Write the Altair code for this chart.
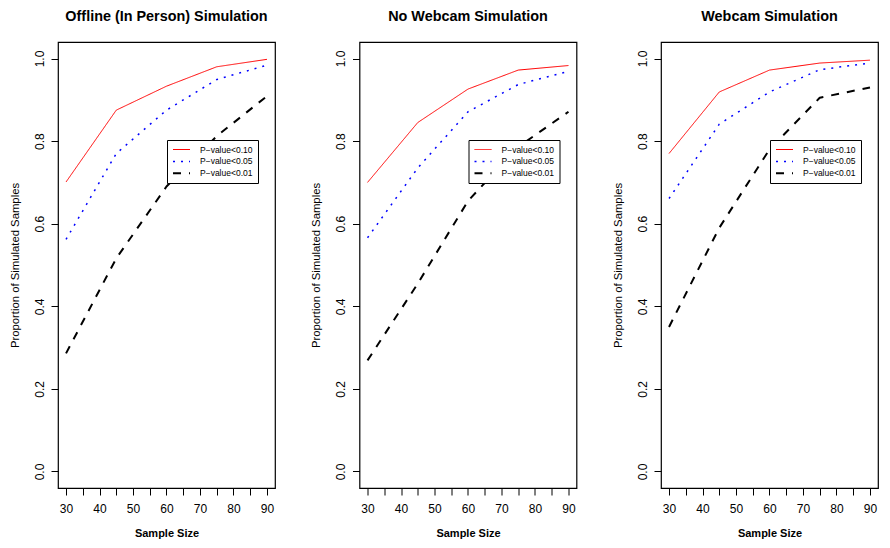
import altair as alt
import pandas as pd

# ---------------- data ----------------
sample_sizes = [30, 45, 60, 75, 90]
panel_titles = ["Offline (In Person) Simulation", "No Webcam Simulation", "Webcam Simulation"]
series_labels = ["P\u2212value<0.10", "P\u2212value<0.05", "P\u2212value<0.01"]

offline_p10 = [0.701, 0.875, 0.933, 0.980, 0.998]
offline_p05 = [0.562, 0.770, 0.875, 0.949, 0.984]
offline_p01 = [0.286, 0.516, 0.690, 0.812, 0.909]

nowebcam_p10 = [0.700, 0.845, 0.926, 0.972, 0.983]
nowebcam_p05 = [0.566, 0.735, 0.871, 0.937, 0.969]
nowebcam_p01 = [0.269, 0.455, 0.655, 0.786, 0.871]

webcam_p10 = [0.770, 0.919, 0.972, 0.989, 0.996]
webcam_p05 = [0.661, 0.841, 0.919, 0.973, 0.989]
webcam_p01 = [0.350, 0.590, 0.780, 0.905, 0.930]

x_ticks = [30, 35, 40, 45, 50, 55, 60, 65, 70, 75, 80, 85, 90]
y_ticks = [0.0, 0.2, 0.4, 0.6, 0.8, 1.0]

# ---------------- style ----------------
FONT = "Liberation Sans"
line_colors = ["#ff0000", "#0000ff", "#000000"]
line_dashes = [[1, 0], [2, 6], [8, 8]]
line_widths = [1.0, 2.0, 2.2]
PW, PH = 217, 446


def make_panel(title, values):
    rows = []
    for label, vals in zip(series_labels, values):
        for n, v in zip(sample_sizes, vals):
            rows.append({"n": n, "p": v, "series": label})
    df = pd.DataFrame(rows)

    legend = alt.Legend(
        orient="none", legendX=109, legendY=98, title=None,
        fillColor="white", strokeColor="black", padding=5,
        symbolType="stroke", symbolSize=289, symbolOffset=0,
        clipHeight=9, rowPadding=2.9,
        labelFont=FONT, labelFontSize=8.5, labelColor="black", labelOffset=9,
    )
    xaxis = alt.Axis(
        values=x_ticks, format="d",
        labelExpr="datum.value % 10 == 0 ? datum.label : ''",
        tickSize=7, tickColor="black", tickWidth=1,
        labelPadding=17.5, labelBaseline="alphabetic", labelFlush=False, labelOverlap=False,
        labelFont=FONT, labelFontSize=12, labelColor="black",
        domain=False, grid=False,
        title="Sample Size", titleX=PW / 2, titleY=48, titleAlign="center",
        titleBaseline="alphabetic", titleFontWeight="bold", titleFontSize=11,
        titleFont=FONT, titleColor="black",
    )
    yaxis = alt.Axis(
        values=y_ticks, format=".1f",
        labelAngle=270, labelAlign="center", labelBaseline="alphabetic",
        tickSize=7, tickColor="black", tickWidth=1,
        labelPadding=8, labelOverlap=False, labelFlush=False,
        labelFont=FONT, labelFontSize=12, labelColor="black",
        domain=False, grid=False,
        title="Proportion of Simulated Samples", titleX=-40, titleY=PH / 2,
        titleAngle=270, titleAlign="center", titleBaseline="alphabetic",
        titleFontWeight="normal", titleFontSize=11.3,
        titleFont=FONT, titleColor="black",
    )
    return alt.Chart(
        df,
        title=alt.TitleParams(text=title, anchor="middle", frame="group",
                              baseline="alphabetic", offset=6.5,
                              fontSize=14.4, fontWeight="bold", font=FONT, color="black"),
    ).mark_line(strokeCap="butt", strokeJoin="round").encode(
        x=alt.X("n:Q", scale=alt.Scale(domain=[27.6, 92.4], nice=False, zero=False), axis=xaxis),
        y=alt.Y("p:Q", scale=alt.Scale(domain=[-0.04, 1.04], nice=False, zero=False), axis=yaxis),
        color=alt.Color("series:N", scale=alt.Scale(domain=series_labels, range=line_colors), legend=legend),
        strokeDash=alt.StrokeDash("series:N", scale=alt.Scale(domain=series_labels, range=line_dashes), legend=legend),
        strokeWidth=alt.StrokeWidth("series:N", scale=alt.Scale(domain=series_labels, range=line_widths), legend=legend),
    ).properties(width=PW, height=PH)


p1 = make_panel(panel_titles[0], [offline_p10, offline_p05, offline_p01])
p2 = make_panel(panel_titles[1], [nowebcam_p10, nowebcam_p05, nowebcam_p01])
p3 = make_panel(panel_titles[2], [webcam_p10, webcam_p05, webcam_p01])

chart = alt.HConcatChart(
    hconcat=[p1, p2, p3], spacing=84.5, bounds="flush",
    padding={"left": 0, "top": 0, "right": 0, "bottom": 0},
    background="white",
).resolve_scale(
    color="independent", strokeDash="independent", strokeWidth="independent"
).resolve_legend(
    color="independent", strokeDash="independent", strokeWidth="independent"
).configure_view(
    stroke="black", strokeWidth=1.2
)

chart.save("out.html", embed_options={"renderer": "svg", "actions": False})
